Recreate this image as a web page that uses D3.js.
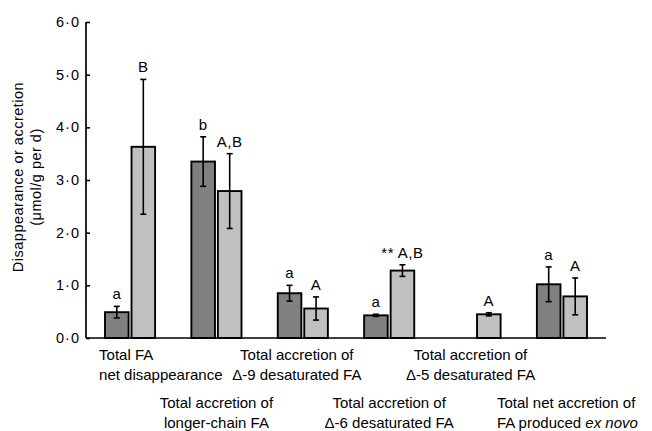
<!DOCTYPE html>
<html>
<head>
<meta charset="utf-8">
<script src="https://cdn.jsdelivr.net/npm/d3@7"></script>
<style>
  body { margin: 0; background: #fff; }
  svg text { font-family: "Liberation Sans", Arial, sans-serif; fill: #000; }
</style>
</head>
<body>
<svg id="canvas"></svg>
<script>
// data
const groups = ["g1", "g2", "g3", "g4", "g5", "g6"];
const catLabels = [
    ["Total FA", "net disappearance"],
    ["Total accretion of", "longer-chain FA"],
    ["Total accretion of", "\u0394-9 desaturated FA"],
    ["Total accretion of", "\u0394-6 desaturated FA"],
    ["Total accretion of", "\u0394-5 desaturated FA"],
    ["Total net accretion of", "FA produced |ex novo"]
];
const darkMean = [0.49, 3.35, 0.85, 0.43, null, 1.02];
const darkErr = [0.11, 0.47, 0.15, 0.02, null, 0.33];
const lightMean = [3.63, 2.79, 0.56, 1.28, 0.45, 0.79];
const lightErr = [1.28, 0.71, 0.22, 0.11, 0.03, 0.35];
const darkMarks = ["a", "b", "a", "a", "", "a"];
const lightMarks = ["B", "A,B", "A", "** A,B", "A", "A"];
const yTicks = [0, 1, 2, 3, 4, 5, 6];

const width = 652, height = 431;
const svg = d3.select("#canvas").attr("width", width).attr("height", height);

const marginLeft = 86, marginRight = 46, marginTop = 22, marginBottom = 93;

const x0 = d3.scaleBand()
    .domain(groups)
    .range([marginLeft, width - marginRight])
    .paddingInner(0.42)
    .paddingOuter(0.22);

const x1 = d3.scaleBand()
    .domain(["dark", "light"])
    .range([0, x0.bandwidth()])
    .paddingInner(0.11);

const y = d3.scaleLinear()
    .domain([0, 6])
    .range([height - marginBottom, marginTop]);

const color = { dark: "#808080", light: "#c0c0c0" };

// flatten into bar rows
const bars = [];
groups.forEach((g, i) => {
    if (darkMean[i] != null) bars.push({ g, key: "dark", v: darkMean[i], e: darkErr[i], mark: darkMarks[i] });
    bars.push({ g, key: "light", v: lightMean[i], e: lightErr[i], mark: lightMarks[i] });
});

const bx = d => x0(d.g) + x1(d.key);
const bw = x1.bandwidth();

svg.selectAll("rect.bar")
    .data(bars)
    .join("rect")
    .attr("class", "bar")
    .attr("x", bx)
    .attr("y", d => y(d.v))
    .attr("width", bw)
    .attr("height", d => y(0) - y(d.v))
    .attr("fill", d => color[d.key])
    .attr("stroke", "#000")
    .attr("stroke-width", 1.9);

// error bars
const eb = svg.append("g").attr("stroke", "#000").attr("stroke-width", 1.6);
bars.forEach(d => {
    const cx = bx(d) + bw / 2;
    eb.append("line").attr("x1", cx).attr("x2", cx).attr("y1", y(d.v + d.e)).attr("y2", y(d.v - d.e));
    [d.v + d.e, d.v - d.e].forEach(v => {
        eb.append("line").attr("x1", cx - 3).attr("x2", cx + 3).attr("y1", y(v)).attr("y2", y(v));
    });
});

// letters above bars
svg.selectAll("text.mark")
    .data(bars)
    .join("text")
    .attr("class", "mark")
    .attr("x", d => bx(d) + bw / 2)
    .attr("y", d => y(d.v + d.e) - 7)
    .attr("text-anchor", "middle")
    .attr("font-size", 15)
    .style("letter-spacing", "0.5px")
    .text(d => d.mark);

// axes
const yAxis = d3.axisLeft(y)
    .tickValues(yTicks)
    .tickSize(-4)
    .tickPadding(6)
    .tickFormat(d => d3.format(".1f")(d).replace(".", "\u00b7"));

const gy = svg.append("g")
    .attr("transform", `translate(${marginLeft},0)`)
    .call(yAxis);
gy.select(".domain").attr("stroke-width", 1.7).attr("d", `M0,${y(6)}V${y(0)}`);
gy.selectAll(".tick line").attr("stroke-width", 1.6);
gy.selectAll(".tick text")
    .attr("font-size", 14.5)
    .attr("font-family", "Liberation Sans, Arial, sans-serif")
    .style("letter-spacing", "1px")
    .attr("fill", "#000");

svg.append("line")
    .attr("x1", marginLeft).attr("x2", width - marginRight)
    .attr("y1", y(0)).attr("y2", y(0))
    .attr("stroke", "#000").attr("stroke-width", 1.7);

// y title
svg.append("text")
    .attr("transform", `translate(23,177) rotate(-90)`)
    .attr("text-anchor", "middle")
    .attr("font-size", 14.5)
    .style("letter-spacing", "0.5px")
    .text("Disappearance or accretion");
svg.append("text")
    .attr("transform", `translate(41,177) rotate(-90)`)
    .attr("text-anchor", "middle")
    .attr("font-size", 14.5)
    .style("letter-spacing", "0.5px")
    .text("(\u03bcmol/g per d)");

// category labels, staggered in two rows
const labelShift = [[-31, "start"], [0, "middle"], [-6, "middle"], [0, "middle"], [-5, "middle"], [-65, "start"]];
const rowBase = [360, 408];
catLabels.forEach((lines, i) => {
    const cx = x0(groups[i]) + x0.bandwidth() / 2 + labelShift[i][0];
    const row = i % 2;
    lines.forEach((line, j) => {
        const t = svg.append("text")
            .attr("x", cx)
            .attr("y", rowBase[row] + j * 20)
            .attr("text-anchor", labelShift[i][1])
            .attr("font-size", 15);
        const parts = line.split("|");
        t.append("tspan").text(parts[0]);
        if (parts[1]) t.append("tspan").attr("font-style", "italic").text(parts[1]);
    });
});
</script>
</body>
</html>
